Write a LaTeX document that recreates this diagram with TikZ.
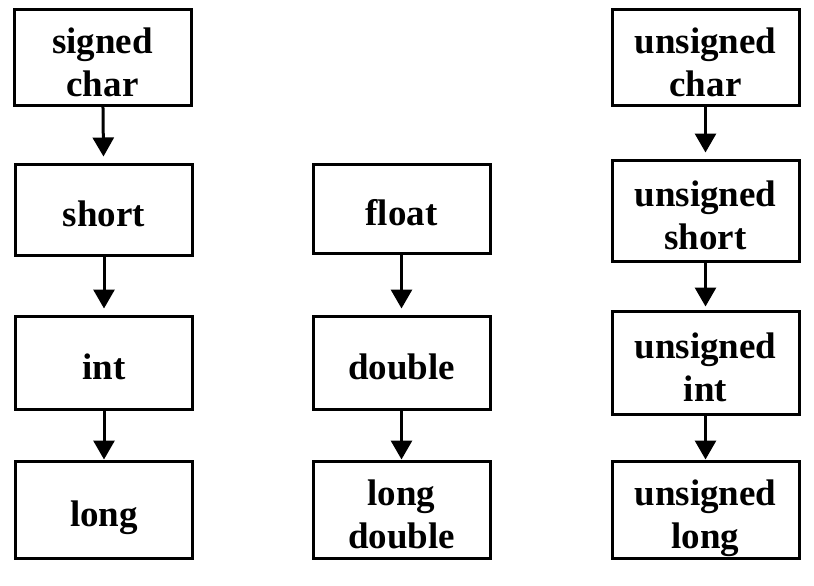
\documentclass[tikz,border=0pt]{standalone}
\usepackage{fontspec}
\setmainfont{Liberation Serif}
\usetikzlibrary{arrows.meta}
\newcommand{\boxlbl}[1]{\raisebox{-8.5pt}[\height][\depth]{\begin{tabular}{@{}c@{}}#1\end{tabular}}}
\begin{document}
\begin{tikzpicture}[x=1pt,y=-1pt,
  box/.style={draw, line width=3pt, inner sep=0pt,
    font=\bfseries\fontsize{37}{43}\selectfont},
  arr/.style={line width=3pt, -{Triangle[width=21pt,length=19pt]}},
  gap/.style={shorten >=6pt}]
\fill[white] (0,0) rectangle (814,586);
\useasboundingbox (0,0) rectangle (814,586);
% left column
\node[box, minimum width=177pt, minimum height=95pt] (sc) at (102.5,57.5) {\boxlbl{signed\\char}};
\node[box, minimum width=177pt, minimum height=91pt] (sh) at (104,209.5) {\boxlbl{short}};
\node[box, minimum width=177pt, minimum height=93pt] (in) at (104,362.5) {\boxlbl{int}};
\node[box, minimum width=177pt, minimum height=97pt] (lo) at (104,509.5) {\boxlbl{long}};
% middle column
\node[box, minimum width=177pt, minimum height=89pt] (fl) at (401.5,208.5) {\boxlbl{float}};
\node[box, minimum width=177pt, minimum height=93pt] (db) at (401.5,362.5) {\boxlbl{double}};
\node[box, minimum width=177pt, minimum height=97pt] (ld) at (401.5,509.5) {\boxlbl{long\\double}};
% right column
\node[box, minimum width=187pt, minimum height=95pt] (uc) at (705.5,57.5) {\boxlbl{unsigned\\char}};
\node[box, minimum width=187pt, minimum height=101pt] (us) at (705.5,210.5) {\boxlbl{unsigned\\short}};
\node[box, minimum width=187pt, minimum height=103pt] (ui) at (705.5,362.5) {\boxlbl{unsigned\\int}};
\node[box, minimum width=187pt, minimum height=97pt] (ul) at (705.5,509.5) {\boxlbl{unsigned\\long}};
% arrows
\draw[arr, gap] (sc) -- (sh);
\draw[arr, gap] (sh) -- (in);
\draw[arr] (in) -- (lo);
\draw[arr, gap] (fl) -- (db);
\draw[arr] (db) -- (ld);
\draw[arr, gap] (uc) -- (us);
\draw[arr, shorten >=3pt] (us) -- (ui);
\draw[arr] (ui) -- (ul);
\end{tikzpicture}
\end{document}
